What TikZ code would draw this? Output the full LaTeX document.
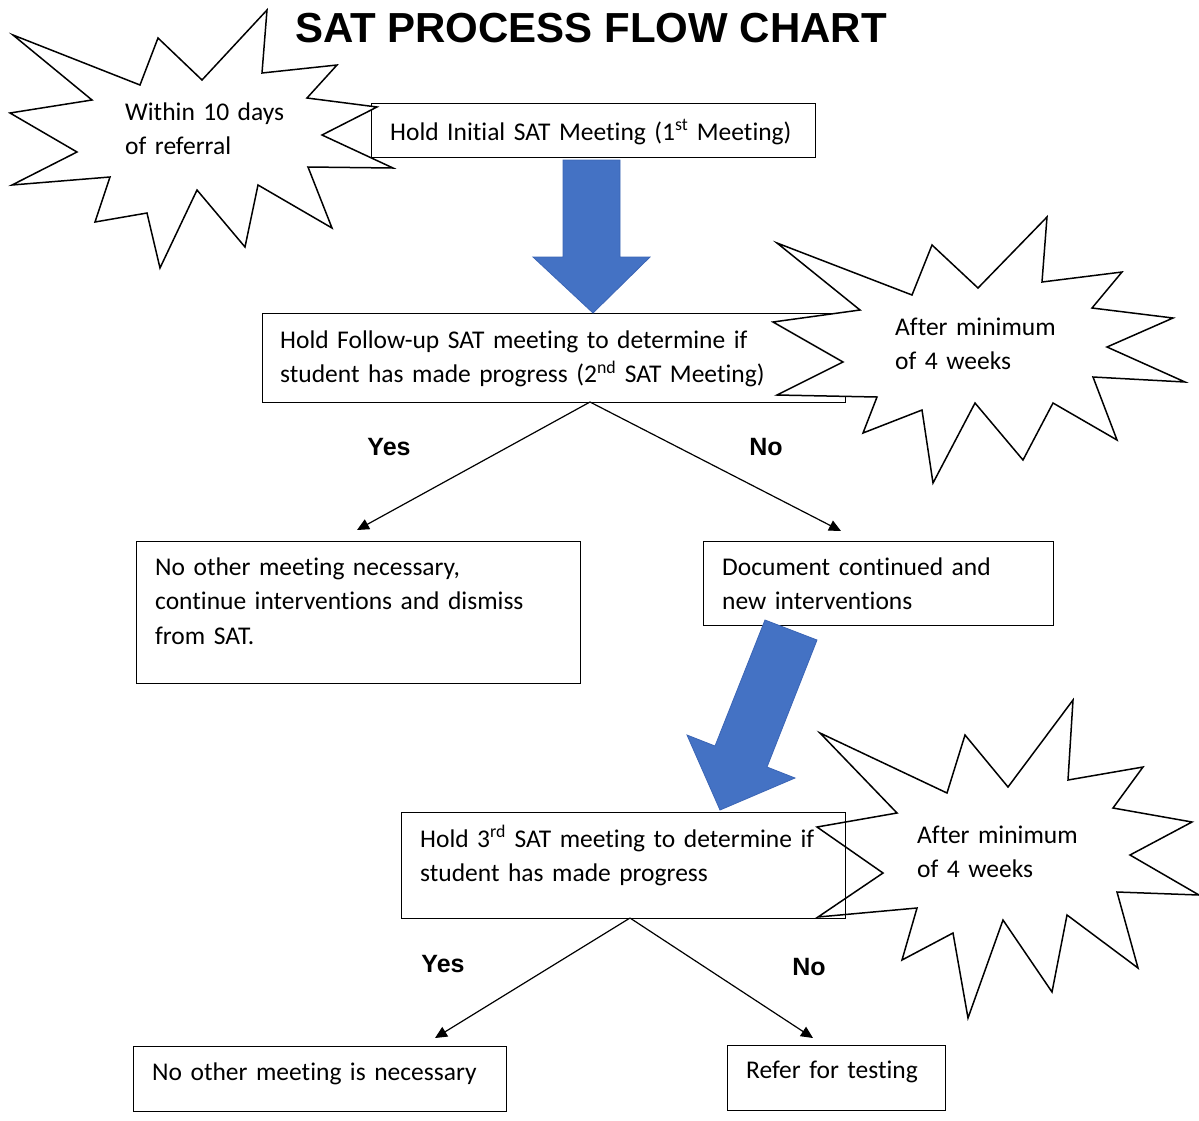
\documentclass[tikz,border=0pt]{standalone}
\usepackage{fontspec}
\setmainfont{Carlito}[Ligatures={NoCommon}]
\newfontfamily\headfont{Liberation Sans}
\usetikzlibrary{arrows.meta}
\definecolor{arrowblue}{HTML}{4472C4}
\definecolor{arrowedge}{HTML}{3B65B5}
\begin{document}
\begin{tikzpicture}[x=1pt,y=-1pt,
  boxnode/.style={draw=black, line width=1.4pt, rectangle, inner sep=0pt, anchor=north west},
  txt/.style={font=\fontsize{25.5}{34.5}\selectfont, inner sep=0pt, anchor=base west, align=left, text width=620pt},
  lbl/.style={font=\headfont\bfseries\fontsize{25}{30}\selectfont, inner sep=0pt, anchor=base},
  titlestyle/.style={font=\headfont\bfseries\fontsize{42}{50}\selectfont, inner sep=0pt, anchor=base},
  star/.style={draw=black, line width=1.5pt, fill=white, line join=miter},
  blockarrow/.style={fill=arrowblue, draw=arrowedge, line width=0.8pt},
  conn/.style={line width=1.2pt, -{Triangle[length=12pt,width=11pt]}}
]
\useasboundingbox[fill=white] (0,0) rectangle (1199,1120);

% title
\node[titlestyle] (title) at (591,42) {SAT PROCESS FLOW CHART};

% boxes
\node[boxnode, minimum width=444pt, minimum height=54pt] (b1) at (371,103) {};
\node[boxnode, minimum width=583pt, minimum height=89pt] (b2) at (262,313) {};
\node[boxnode, minimum width=444pt, minimum height=142pt] (b3) at (136,541) {};
\node[boxnode, minimum width=350pt, minimum height=84pt] (b4) at (703,541) {};
\node[boxnode, minimum width=373pt, minimum height=65pt] (b6) at (133,1046) {};
\node[boxnode, minimum width=218pt, minimum height=65pt] (b7) at (727,1045) {};

% star 3 (behind box 5 outline)
\draw[star] (820,733) -- (947,793) -- (965,735) -- (1008,787) -- (1073,700) -- (1068,780) -- (1143,767) -- (1113,808) -- (1192,822) -- (1130,855) -- (1199,895) -- (1117,892) -- (1138,968) -- (1067,915) -- (1052,992) -- (1003,920) -- (968,1018) -- (953,933) -- (902,960) -- (917,908) -- (818,917) -- (883,873) -- (817,827) -- (897,813) -- cycle;
\node[boxnode, minimum width=444pt, minimum height=106pt] (b5) at (401,812) {};

% star 1 and star 2
\draw[star] (13,35) -- (140,85) -- (158,38) -- (202,80) -- (267,10) -- (262,73) -- (337,65) -- (307,98) -- (377,107) -- (322,135) -- (393,168) -- (308,167) -- (332,228) -- (258,185) -- (245,247) -- (197,190) -- (160,268) -- (147,213) -- (95,222) -- (110,177) -- (12,185) -- (77,152) -- (10,113) -- (92,100) -- cycle;
\draw[star] (777,243) -- (912,295) -- (932,245) -- (978,288) -- (1047,217) -- (1042,282) -- (1122,272) -- (1092,308) -- (1173,318) -- (1107,347) -- (1185,382) -- (1093,377) -- (1117,440) -- (1053,403) -- (1023,460) -- (975,403) -- (933,483) -- (922,410) -- (863,433) -- (877,397) -- (777,395) -- (843,362) -- (773,322) -- (860,310) -- cycle;

% texts
\node[txt] (t1) at (390,140) {Hold Initial SAT Meeting (1\textsuperscript{st} Meeting)};
\node[txt] (t2) at (280,348) {Hold Follow-up SAT meeting to determine if\\student has made progress (2\textsuperscript{nd} SAT Meeting)};
\node[txt] (t3) at (155,575) {No other meeting necessary,\\continue interventions and dismiss\\from SAT.};
\node[txt] (t4) at (722,575) {Document continued and\\new interventions};
\node[txt] (t5) at (420,847) {Hold 3\textsuperscript{rd} SAT meeting to determine if\\student has made progress};
\node[txt] (t6) at (152,1080) {No other meeting is necessary};
\node[txt] (t7) at (746,1078) {Refer for testing};
\node[txt] (s1) at (125,120) {Within 10 days\\of referral};
\node[txt] (s2) at (895,335) {After minimum\\of 4 weeks};
\node[txt] (s3) at (917,843) {After minimum\\of 4 weeks};

% labels
\node[lbl] (y1) at (389,455) {Yes};
\node[lbl] (n1) at (766,455) {No};
\node[lbl] (y2) at (443,972) {Yes};
\node[lbl] (n2) at (809,975) {No};

% connectors
\coordinate (c2s) at (590,402);
\coordinate (c2y) at (357,530);
\coordinate (c2n) at (841,531);
\coordinate (c5s) at (630,918);
\coordinate (c5y) at (435,1038);
\coordinate (c5n) at (813,1038);
\draw[conn] (c2s) -- (c2y);
\draw[conn] (c2s) -- (c2n);
\draw[conn] (c5s) -- (c5y);
\draw[conn] (c5s) -- (c5n);

% block arrows
\draw[blockarrow] (563,160) -- (620,160) -- (620,257) -- (650,257) -- (593,313) -- (533,257) -- (563,257) -- cycle;
\draw[blockarrow] (765,620) -- (817,640) -- (767,767) -- (795,778) -- (720,810) -- (687,735) -- (715,746) -- cycle;
\end{tikzpicture}
\end{document}
